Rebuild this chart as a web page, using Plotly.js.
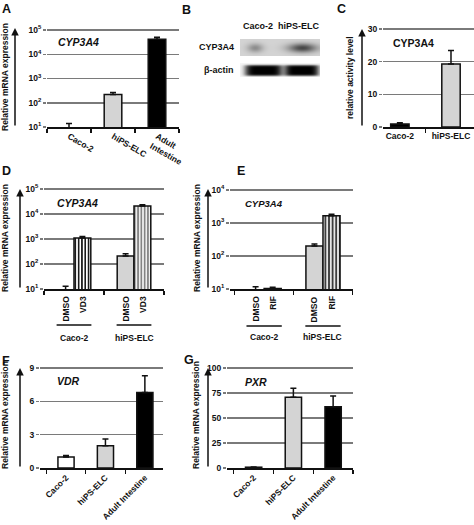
<!DOCTYPE html>
<html><head><meta charset="utf-8">
<script src="https://cdn.plot.ly/plotly-3.0.1.min.js"></script>
<style>html,body{margin:0;padding:0;background:#fff}#chart{width:474px;height:525px}</style>
</head><body><div id="chart"></div><script>
// ---------- DATA ----------
// Log-axis tick labels
const logTickVals = [10, 100, 1000, 10000, 100000];
const logTickText = ["10<sup>1</sup>", "10<sup>2</sup>", "10<sup>3</sup>", "10<sup>4</sup>", "10<sup>5</sup>"];
// Panel A: CYP3A4 mRNA (log scale)
const catsA = ["Caco-2", "hiPS-ELC", "Adult<br>Intestine"];
const valsA = [1, 220, 42000];
const errA = [13, 45, 8000];
// Panel B: western blot band intensities (0..1)
const blotLanes = ["Caco-2", "hiPS-ELC"];
const blotRows = ["CYP3A4", "β-actin"];
const blotCYP3A4 = [0.28, 0.55];
const blotActin = [0.97, 0.97];
// Panel C: CYP3A4 activity
const catsC = ["Caco-2", "hiPS-ELC"];
const valsC = [0.9, 19.3];
const errC = [0.4, 4.1];
// Panel D: VD3 induction (log scale)
const groupsD = ["Caco-2", "hiPS-ELC"];
const dmsoD = [1, 210];
const errDmsoD = [12, 45];
const vd3D = [1100, 21000];
const errVd3D = [150, 2500];
// Panel E: RIF induction (log scale)
const groupsE = ["Caco-2", "hiPS-ELC"];
const dmsoE = [1, 200];
const errDmsoE = [10.7, 30];
const rifE = [10.4, 1650];
const errRifE = [0.9, 200];
// Panels F, G
const catsFG = ["Caco-2", "hiPS-ELC", "Adult Intestine"];
const valsF = [1.0, 2.0, 6.8];
const errF = [0.12, 0.6, 1.5];
const valsG = [0.8, 70.7, 61.3];
const errG = [0.3, 9, 10.7];

// ---------- STYLE / LAYOUT ----------
const W = 474, H = 525;
const FONT = 'Liberation Sans, Arial, sans-serif';
const INK = '#111';
const GRID = '#7a7a7a';
const LIGHT = '#d4d4d4';
const xd = (a, b) => [a / W, b / W];
const yd = (t, b) => [1 - b / H, 1 - t / H];
const tf = {family: FONT, size: 8.5, color: INK, weight: 'bold'};

function yAx(n, dom, extra) {
  return Object.assign({domain: dom, anchor: 'x' + n, showgrid: true, gridcolor: GRID, gridwidth: 1.5,
    ticks: 'outside', ticklen: 3, tickcolor: GRID, tickwidth: 1.5, showline: false,
    zeroline: false, tickfont: Object.assign({}, tf), fixedrange: true}, extra);
}
function xAx(n, dom, extra) {
  return Object.assign({domain: dom, anchor: 'y' + n, type: 'category', showline: true, linecolor: INK, linewidth: 1.5,
    ticks: 'outside', tickson: 'boundaries', ticklen: 4, tickcolor: INK, tickwidth: 1.2,
    showgrid: false, zeroline: false, tickfont: Object.assign({}, tf), fixedrange: true}, extra);
}
const logY = (r) => ({type: 'log', range: r, tickmode: 'array', tickvals: logTickVals.slice(), ticktext: logTickText.slice()});
const eb = (arr) => ({type: 'data', array: arr, arrayminus: arr.map(() => 0), symmetric: false,
  color: INK, thickness: 1.5, width: 3});
const outline = {color: INK, width: 1.5};

const traces = [];
// B blot heatmap (on x/y)
const nx = 81, ny = 39;
const cypC = [0.37, 1.55], cypW = [0.2, 0.36];
const actC = [0.58, 1.53], actW = [0.47, 0.43];
const bx = [], by = [], bz = [];
for (let i = 0; i < nx; i++) bx.push(2 * i / (nx - 1));
for (let j = 0; j < ny; j++) {
  by.push(j);
  const row = [];
  for (let i = 0; i < nx; i++) {
    const x = bx[i];
    let v = 0;
    if (j <= 16) {
      v = 0.17;
      for (let k = 0; k < blotLanes.length; k++)
        v += blotCYP3A4[k] * Math.exp(-Math.pow((x - cypC[k]) / cypW[k], 2)) * Math.exp(-Math.pow((j - 8.5) / 4.5, 2));
    } else if (j >= 24) {
      v = 0.04;
      for (let k = 0; k < blotLanes.length; k++)
        v += blotActin[k] * Math.exp(-Math.pow((x - actC[k]) / actW[k], 6)) * Math.exp(-Math.pow((j - 31) / 5.5, 6));
    }
    row.push(Math.min(v, 1));
  }
  bz.push(row);
}
traces.push({type: 'heatmap', x: bx, y: by, z: bz, xaxis: 'x', yaxis: 'y', zmin: 0, zmax: 1,
  colorscale: [[0, '#ffffff'], [1, '#000000']], showscale: false, zsmooth: 'best', hoverinfo: 'none'});
// A (on x8/y8)
traces.push({type: 'bar', x: catsA, y: valsA, xaxis: 'x8', yaxis: 'y8', width: 0.4,
  marker: {color: [LIGHT, LIGHT, '#000'], line: outline}, error_y: eb(errA), hoverinfo: 'none'});
// C
traces.push({type: 'bar', x: catsC, y: valsC, xaxis: 'x3', yaxis: 'y3', width: 0.36,
  marker: {color: ['#000', LIGHT], line: outline}, error_y: eb(errC), hoverinfo: 'none'});
// D
traces.push({type: 'bar', x: groupsD, y: dmsoD, xaxis: 'x4', yaxis: 'y4', width: 0.28, offset: -0.28,
  marker: {color: LIGHT, line: outline}, error_y: eb(errDmsoD), hoverinfo: 'none'});
traces.push({type: 'bar', x: groupsD, y: vd3D, xaxis: 'x4', yaxis: 'y4', width: 0.28, offset: 0,
  marker: {color: '#fff', line: outline, pattern: {shape: '|', fgcolor: ['#000', '#777'], bgcolor: ['#fff', '#eee'], size: 3.3, solidity: 0.45}},
  error_y: eb(errVd3D), hoverinfo: 'none'});
// E
traces.push({type: 'bar', x: groupsE, y: dmsoE, xaxis: 'x5', yaxis: 'y5', width: 0.29, offset: -0.29,
  marker: {color: LIGHT, line: outline}, error_y: eb(errDmsoE), hoverinfo: 'none'});
traces.push({type: 'bar', x: groupsE, y: rifE, xaxis: 'x5', yaxis: 'y5', width: 0.29, offset: 0,
  marker: {color: '#fff', line: outline, pattern: {shape: '|', fgcolor: '#111', bgcolor: '#e6e6e6', size: 3.6, solidity: 0.4}},
  error_y: eb(errRifE), hoverinfo: 'none'});
// F
traces.push({type: 'bar', x: catsFG, y: valsF, xaxis: 'x6', yaxis: 'y6', width: 0.41,
  marker: {color: ['#fff', LIGHT, '#000'], line: outline}, error_y: eb(errF), hoverinfo: 'none'});
// G
traces.push({type: 'bar', x: catsFG, y: valsG, xaxis: 'x7', yaxis: 'y7', width: 0.41,
  marker: {color: ['#000', LIGHT, '#000'], line: outline}, error_y: eb(errG), hoverinfo: 'none'});

const layout = {
  width: W, height: H, margin: {l: 0, r: 0, t: 0, b: 0},
  paper_bgcolor: '#fff', plot_bgcolor: '#fff', showlegend: false, barmode: 'overlay',
  font: {family: FONT, color: INK},
  xaxis: {domain: xd(240, 320), anchor: 'y', range: [0, 2], visible: false, fixedrange: true},
  yaxis: {domain: yd(39, 77), anchor: 'x', range: [38.5, -0.5], visible: false, fixedrange: true},
  xaxis8: xAx(8, xd(47, 179), {range: [-0.5, 2.5]}),
  yaxis8: yAx(8, yd(28, 127), logY([1, 5.0825])),
  xaxis3: xAx(3, xd(383, 474), {range: [-0.33, 1.45]}),
  yaxis3: yAx(3, yd(27, 127), {range: [0, 30.61], dtick: 10}),
  xaxis4: xAx(4, xd(44, 164), {range: [-0.5, 1.5], showticklabels: false}),
  yaxis4: yAx(4, yd(187, 289), logY([1, 5.08])),
  xaxis5: xAx(5, xd(230, 353), {range: [-0.58, 1.51], showticklabels: false}),
  yaxis5: yAx(5, yd(188, 289), logY([1, 4.06])),
  xaxis6: xAx(6, xd(40, 163), {range: [-0.66, 2.46], tickangle: -45}),
  yaxis6: yAx(6, yd(366, 468), {range: [0, 9.18], dtick: 3}),
  xaxis7: xAx(7, xd(227, 353), {range: [-0.67, 2.5], tickangle: -45}),
  yaxis7: yAx(7, yd(366, 468), {range: [0, 102], dtick: 25}),
  annotations: [], shapes: []
};

function ann(px, py, text, o) {
  return Object.assign({xref: 'paper', yref: 'paper', x: px / W, y: 1 - py / H, text: text, showarrow: false,
    xanchor: 'center', yanchor: 'middle', font: Object.assign({}, tf)}, o || {});
}
function arrow(px, top, bottom) {
  return {xref: 'paper', yref: 'paper', x: px / W, y: 1 - top / H, ax: 0, ay: bottom - top,
    showarrow: true, arrowhead: 2, arrowsize: 1, arrowwidth: 1.5, arrowcolor: INK, text: ''};
}
const A = layout.annotations;
// panel letters
[['A', 6, 9], ['B', 186, 10], ['C', 341, 9], ['D', 6, 171], ['E', 241, 171], ['F', 6, 361], ['G', 189, 360]]
  .forEach(p => A.push(ann(p[1], p[2], p[0], {font: {family: FONT, size: 12.5, color: INK, weight: 'bold'}})));
// y titles + arrows
const yt = 'Relative mRNA expression';
[[5, 77, yt], [350, 78, 'relative activity level'], [5, 238, yt], [197, 238, yt], [5, 415, yt], [196, 415, yt]]
  .forEach(p => A.push(ann(p[0], p[1], p[2], {textangle: -90})));
[[15, 28, 127], [362, 29, 127], [20, 189, 289], [208, 189, 289], [20, 368, 468], [208, 368, 468]]
  .forEach(p => A.push(arrow(p[0], p[1], p[2])));
// in-plot titles
const ttl = {family: FONT, size: 10.5, color: INK, weight: 'bold', style: 'italic'};
A.push(ann(56, 42, 'CYP3A4', {xanchor: 'left', font: ttl}));
A.push(ann(391, 43, 'CYP3A4', {xanchor: 'left', font: Object.assign({}, ttl, {style: 'normal'})}));
A.push(ann(55, 203, 'CYP3A4', {xanchor: 'left', font: ttl}));
A.push(ann(243, 203.5, 'CYP3A4', {xanchor: 'left', font: Object.assign({}, ttl, {size: 9.5})}));
A.push(ann(55, 381, 'VDR', {xanchor: 'left', font: ttl}));
A.push(ann(243, 382, 'PXR', {xanchor: 'left', font: ttl}));
// blot labels
A.push(ann(258, 25.5, blotLanes[0], {font: Object.assign({}, tf, {size: 9})}));
A.push(ann(299, 25.5, blotLanes[1], {font: Object.assign({}, tf, {size: 9})}));
A.push(ann(236, 47, blotRows[0], {xanchor: 'right', font: Object.assign({}, tf, {size: 9})}));
A.push(ann(236, 70, blotRows[1], {xanchor: 'right', font: Object.assign({}, tf, {size: 9})}));
// D / E treatment labels, group lines and names
function groupLabels(xref, groups, w, treat, lineY, nameY) {
  groups.forEach((g, i) => {
    A.push({xref: xref, yref: 'paper', x: i - w / 2, y: 1 - 294 / H, xanchor: 'center', yanchor: 'top', text: 'DMSO',
      textangle: -90, showarrow: false, font: tf});
    A.push({xref: xref, yref: 'paper', x: i + w / 2, y: 1 - 294 / H, xanchor: 'center', yanchor: 'top', text: treat,
      textangle: -90, showarrow: false, font: tf});
    layout.shapes.push({type: 'line', xref: xref, yref: 'paper', x0: i - w - 0.01, x1: i + w + 0.01,
      y0: 1 - lineY / H, y1: 1 - lineY / H, line: {color: INK, width: 1.5}});
    A.push({xref: xref, yref: 'paper', x: i, y: 1 - nameY / H, xanchor: 'center', yanchor: 'middle', text: g, showarrow: false, font: tf});
  });
}
groupLabels('x4', groupsD, 0.28, 'VD3', 325, 338);
groupLabels('x5', groupsE, 0.29, 'RIF', 326, 337);

Plotly.newPlot('chart', traces, layout, {staticPlot: true});
</script></body></html>
